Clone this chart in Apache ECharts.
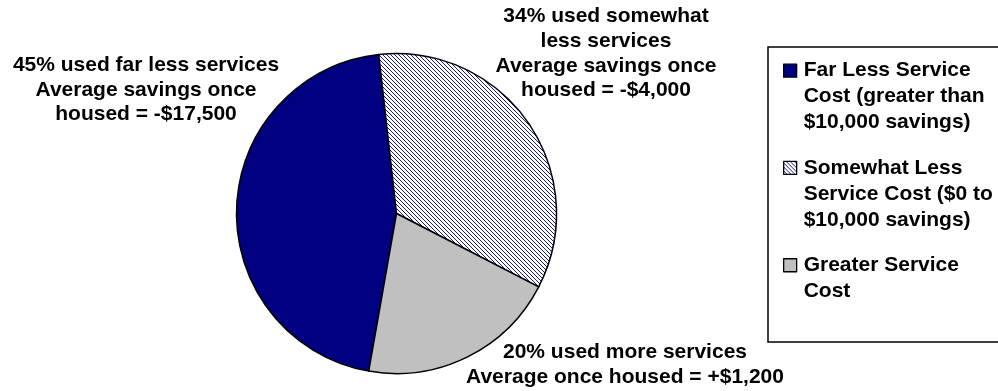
<!DOCTYPE html>
<html>
<head>
<meta charset="utf-8">
<script src="https://cdn.jsdelivr.net/npm/echarts@6/dist/echarts.min.js"></script>
<style>
html,body{margin:0;padding:0;background:#fff;}
#chart{width:998px;height:391px;}
</style>
</head>
<body>
<div id="chart"></div>
<script>
// ---- data ----
const categories = [
  'Far Less Service Cost (greater than $10,000 savings)',
  'Somewhat Less Service Cost ($0 to $10,000 savings)',
  'Greater Service Cost'
];
const shares = [45, 34, 20];
const sliceLabels = [
  '45% used far less services\nAverage savings once\nhoused = -$17,500',
  '34% used somewhat\nless services\nAverage savings once\nhoused = -$4,000',
  '20% used more services\nAverage once housed = +$1,200'
];
const legendLabels = [
  'Far Less Service\nCost (greater than\n$10,000 savings)',
  'Somewhat Less\nService Cost ($0 to\n$10,000 savings)',
  'Greater Service\nCost\n '
];

// ---- styling ----
const FONT = '"Liberation Sans", Arial, sans-serif';
function hatch() {
  const c = document.createElement('canvas');
  c.width = 4; c.height = 4;
  const g = c.getContext('2d');
  g.fillStyle = '#ffffff';
  g.fillRect(0, 0, 4, 4);
  g.strokeStyle = '#1a1a8c';
  g.lineWidth = 1;
  g.beginPath();
  g.moveTo(-1, -1); g.lineTo(5, 5);
  g.moveTo(-1, 3); g.lineTo(1, 5);
  g.moveTo(3, -1); g.lineTo(5, 1);
  g.stroke();
  return c;
}
const colors = ['#000080', {image: hatch(), repeat: 'repeat'}, '#c0c0c0'];
const labelPos = [
  {x: 146, y: 90, align: 'center'},
  {x: 606, y: 53.5, align: 'center'},
  {x: 625, y: 365, align: 'center'}
];
const ICON = 'path://M0,0 M15,78 M0,6.5 h13 v13 h-13 z';

const chart = echarts.init(document.getElementById('chart'));
chart.setOption({
  animation: false,
  backgroundColor: '#ffffff',
  graphic: [{
    type: 'rect',
    silent: true,
    shape: {x: 768, y: 47, width: 280, height: 295},
    style: {fill: 'none', stroke: '#000', lineWidth: 1.5}
  }],
  legend: {
    orient: 'vertical',
    left: 783,
    top: 57,
    padding: 0,
    itemWidth: 15,
    itemHeight: 78,
    itemGap: 18,
    selectedMode: false,
    icon: ICON,
    itemStyle: {borderColor: '#000', borderWidth: 1.3},
    data: categories.map(n => ({name: n, icon: ICON})),
    formatter: name => legendLabels[categories.indexOf(name)],
    textStyle: {
      fontFamily: FONT, fontWeight: 'bold', fontSize: 21, lineHeight: 26, color: '#000'
    }
  },
  series: [{
    type: 'pie',
    center: [396.5, 213.5],
    radius: 160,
    startAngle: 260,
    clockwise: true,
    silent: true,
    avoidLabelOverlap: false,
    itemStyle: {borderColor: '#000', borderWidth: 1.5},
    label: {
      show: true,
      position: 'outside',
      fontFamily: FONT, fontWeight: 'bold', fontSize: 21, lineHeight: 24.7,
      color: '#000',
      formatter: p => sliceLabels[p.dataIndex]
    },
    labelLine: {show: false},
    labelLayout: p => ({
      x: labelPos[p.dataIndex].x,
      y: labelPos[p.dataIndex].y,
      align: labelPos[p.dataIndex].align,
      verticalAlign: 'middle'
    }),
    data: categories.map((n, i) => ({
      name: n,
      value: shares[i],
      itemStyle: {color: colors[i]}
    }))
  }]
});
</script>
</body>
</html>
